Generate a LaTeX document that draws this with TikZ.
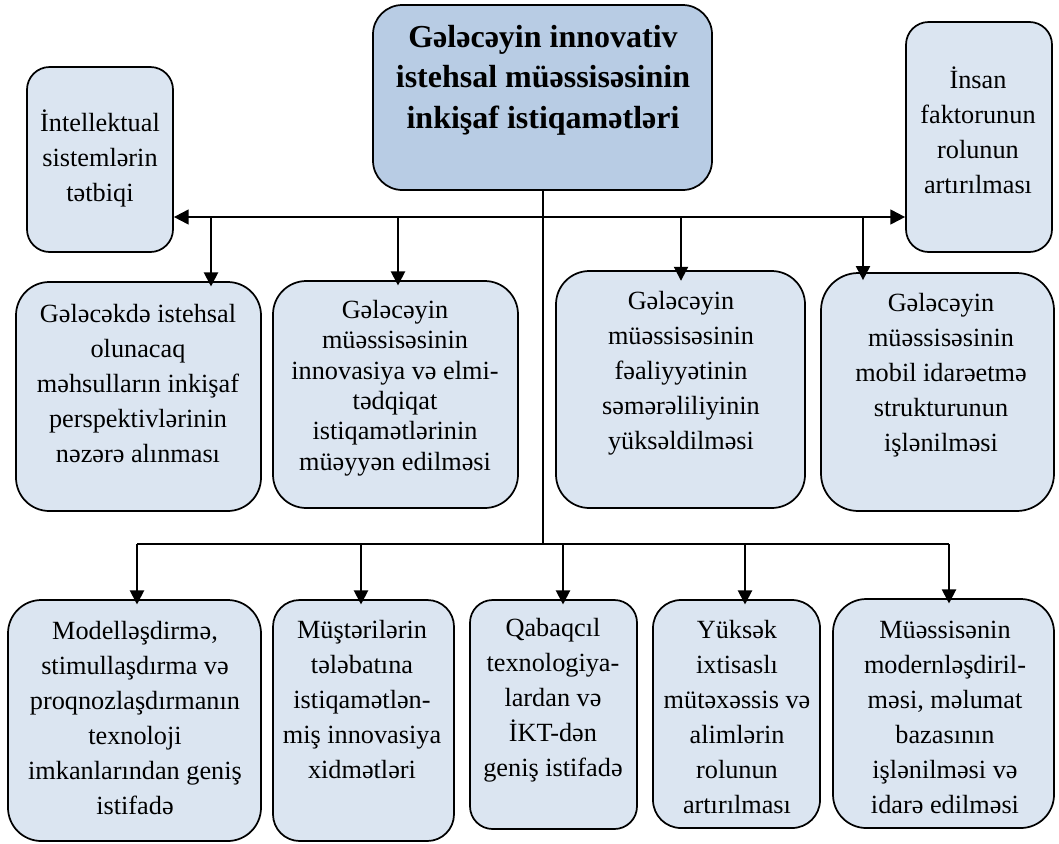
\documentclass[tikz,border=0pt]{standalone}
\usepackage{fontspec}
\setmainfont{Liberation Serif}
\usetikzlibrary{arrows.meta,fit}
\definecolor{boxfill}{RGB}{219,229,241}
\definecolor{titlefill}{RGB}{184,204,228}
\tikzset{
  box/.style={draw=black, line width=1.3pt, fill=boxfill, inner sep=0pt},
  titlebox/.style={box, fill=titlefill},
  txt/.style={align=center, inner sep=0pt, font=\fontsize{19.7pt}{26.25pt}\selectfont},
  txttight/.style={txt, font=\fontsize{19.7pt}{22.8pt}\selectfont},
  titletxt/.style={align=center, inner sep=0pt, font=\bfseries\fontsize{24pt}{30.4pt}\selectfont},
  conn/.style={line width=1.5pt},
  arr/.style={conn, -{Triangle[length=10.5pt,width=10.5pt]}, shorten >=-4pt},
  darr/.style={conn, {Triangle[length=11pt,width=11pt]}-{Triangle[length=11pt,width=11pt]}}
}
\begin{document}
\begin{tikzpicture}[x=0.75pt,y=-0.75pt]
\useasboundingbox (0,0) rectangle (1059,843);
% boxes
\node[titlebox, rounded corners=22pt, fit={(373,5) (712,190)}] (T) {};
\node[box, rounded corners=17pt, fit={(27,67) (173,252)}] (L) {};
\node[box, rounded corners=17pt, fit={(906,22) (1052,252)}] (R) {};
\node[box, rounded corners=25pt, fit={(16,282) (261,511)}] (B1) {};
\node[box, rounded corners=25pt, fit={(273,281) (518,508)}] (B2) {};
\node[box, rounded corners=25pt, fit={(556,271) (805,508)}] (B3) {};
\node[box, rounded corners=28pt, fit={(821,273) (1054,511)}] (B4) {};
\node[box, rounded corners=25pt, fit={(8,600) (261,841)}] (C1) {};
\node[box, rounded corners=20pt, fit={(273,600) (454,841)}] (C2) {};
\node[box, rounded corners=17pt, fit={(470,600) (637,829)}] (C3) {};
\node[box, rounded corners=21pt, fit={(653,600) (820,828)}] (C4) {};
\node[box, rounded corners=25pt, fit={(833,599) (1054,828)}] (C5) {};
% texts
\node[titletxt] (Tt) at (543,80) {Gələcəyin innovativ\\istehsal müəssisəsinin\\inkişaf istiqamətləri};
\node[txt] (Lt) at (100,158) {İntellektual\\sistemlərin\\tətbiqi};
\node[txt] (Rt) at (978,130) {İnsan\\faktorunun\\rolunun\\artırılması};
\node[txt] (B1t) at (138,384) {Gələcəkdə istehsal\\olunacaq\\məhsulların inkişaf\\perspektivlərinin\\nəzərə alınması};
\node[txttight] (B2t) at (395,388) {Gələcəyin\\müəssisəsinin\\innovasiya və elmi-\\tədqiqat\\istiqamətlərinin\\müəyyən edilməsi};
\node[txt] (B3t) at (681,373) {Gələcəyin\\müəssisəsinin\\fəaliyyətinin\\səmərəliliyinin\\yüksəldilməsi};
\node[txt] (B4t) at (941,375) {Gələcəyin\\müəssisəsinin\\mobil idarəetmə\\strukturunun\\işlənilməsi};
\node[txt] (C1t) at (135,718) {Modelləşdirmə,\\stimullaşdırma və\\proqnozlaşdırmanın\\texnoloji\\imkanlarından geniş\\istifadə};
\node[txt] (C2t) at (362,700) {Müştərilərin\\tələbatına\\istiqamətlən-\\miş innovasiya\\xidmətləri};
\node[txt] (C3t) at (553,700) {Qabaqcıl\\texnologiya-\\lardan və\\İKT-dən\\geniş istifadə};
\node[txt] (C4t) at (737,717) {Yüksək\\ixtisaslı\\mütəxəssis və\\alimlərin\\rolunun\\artırılması};
\node[txt] (C5t) at (945,717) {Müəssisənin\\modernləşdiril-\\məsi, məlumat\\bazasının\\işlənilməsi və\\idarə edilməsi};
% bars
\coordinate (ub) at (543,217);
\coordinate (lb) at (543,544);
\draw[darr] (L.east |- ub) -- (R.west |- ub);
\draw[conn] (T.south) -- (T.south |- lb);
\coordinate (lbl) at (137,544);
\coordinate (lbr) at (949,544);
\draw[conn] (lbl) -- (lbr);
% drops upper
\coordinate (u1) at (211,217);
\coordinate (u2) at (398,217);
\coordinate (u3) at (681,217);
\coordinate (u4) at (863,217);
\draw[arr] (u1) -- (u1 |- B1.north);
\draw[arr] (u2) -- (u2 |- B2.north);
\draw[arr, shorten >=-8pt] (u3) -- (u3 |- B3.north);
\draw[arr, shorten >=-6pt] (u4) -- (u4 |- B4.north);
% drops lower
\coordinate (d1) at (137,544);
\coordinate (d2) at (361,544);
\coordinate (d3) at (563,544);
\coordinate (d4) at (745,544);
\coordinate (d5) at (949,544);
\draw[arr] (d1) -- (d1 |- C1.north);
\draw[arr] (d2) -- (d2 |- C2.north);
\draw[arr] (d3) -- (d3 |- C3.north);
\draw[arr] (d4) -- (d4 |- C4.north);
\draw[arr] (d5) -- (d5 |- C5.north);
\end{tikzpicture}
\end{document}
